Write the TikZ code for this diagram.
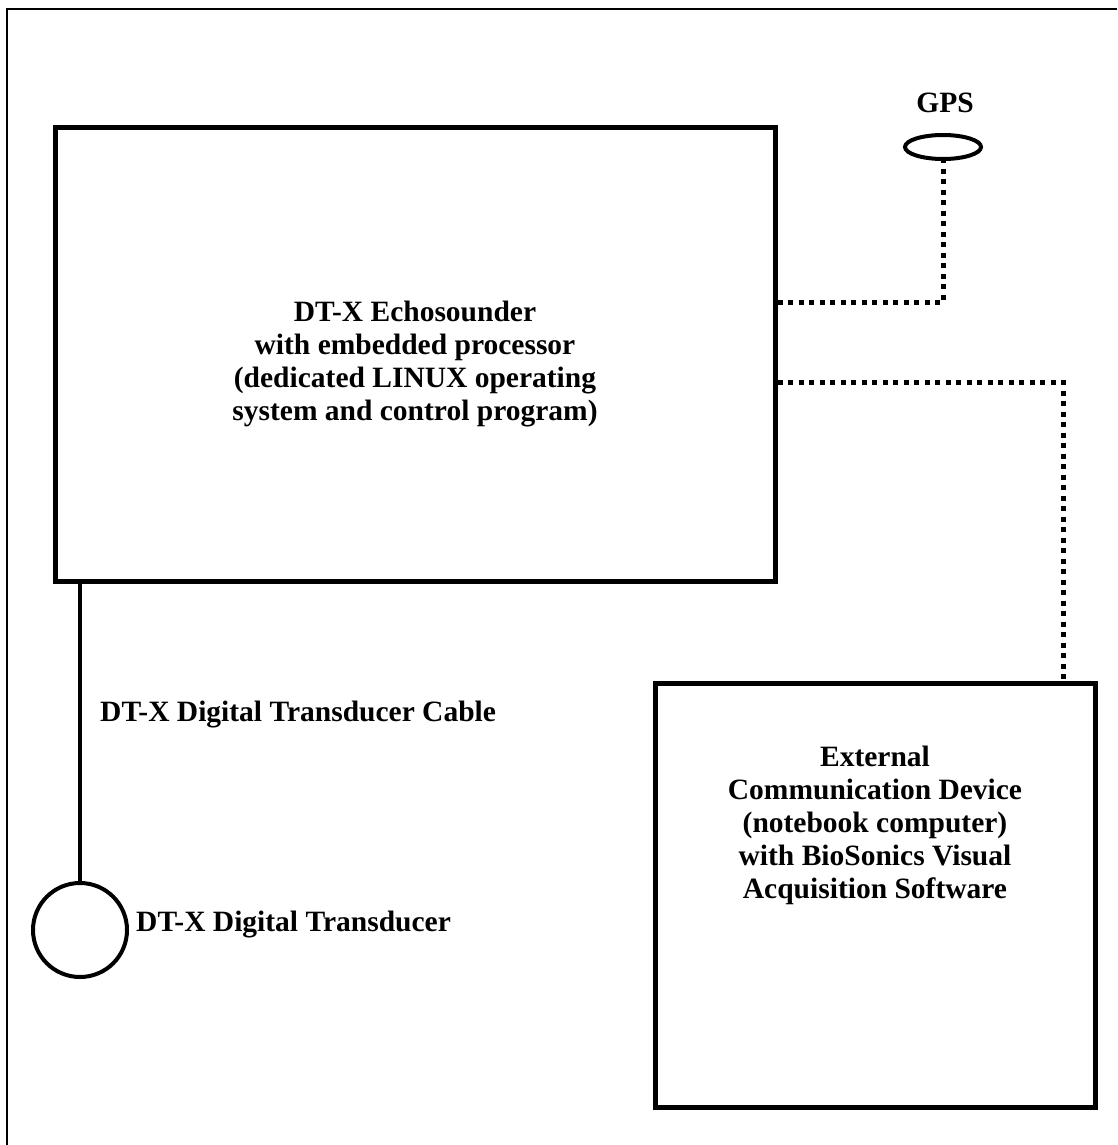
\documentclass[tikz,border=0pt]{standalone}
\usepackage{fontspec}
\setmainfont{Liberation Serif}
\usetikzlibrary{shapes.geometric, positioning}

\begin{document}
\begin{tikzpicture}[
  x=1pt, y=-1pt,
  font=\fontsize{29.5}{33}\selectfont\bfseries,
  frame/.style={line width=2.5pt},
  unit/.style={rectangle, draw, line width=5pt, inner sep=0pt},
  tag/.style={align=center, inner sep=0pt},
  cable/.style={line width=3.5pt},
  link/.style={line width=5pt, dash pattern=on 5pt off 5.5pt}
]
\useasboundingbox (0,0) rectangle (1117,1145);
\draw [frame] (7,1145) |- (1117,9);

\node (echo)   [unit, minimum width=720pt, minimum height=453pt] at (415,354.5) {};
\node (echotxt) [tag] at (415,364) {DT-X Echosounder\\with embedded processor\\(dedicated LINUX operating\\system and control program)};

\node (ext)    [unit, minimum width=440pt, minimum height=424pt] at (875,895) {};
\node (exttxt) [tag, below=65pt of ext.north] {External\\Communication Device\\(notebook computer)\\with BioSonics Visual\\Acquisition Software};

\node (gps)    [ellipse, draw, line width=4pt, minimum width=76pt, minimum height=24pt, inner sep=0pt] at (943,147) {};
\node (gpstag) [tag] at (945,103) {GPS};

\node (xducer) [circle, draw, line width=4pt, minimum size=94pt, inner sep=0pt] at (80,930) {};
\node (xdtag)  [tag, right=7pt of xducer, yshift=5pt] {DT-X Digital Transducer};
\node (cabletag) [tag, anchor=west] at (100,715) {DT-X Digital Transducer Cable};

\coordinate (gpsjoin) at (945,302);
\coordinate (extjoin) at (1063,382);

\draw [cable] (echo.south -| xducer) -- (xducer);
\draw [link] (echo.east |- gpsjoin) -| (gps.south);
\draw [link] (echo.east |- extjoin) -| (extjoin |- ext.north);
\end{tikzpicture}
\end{document}
